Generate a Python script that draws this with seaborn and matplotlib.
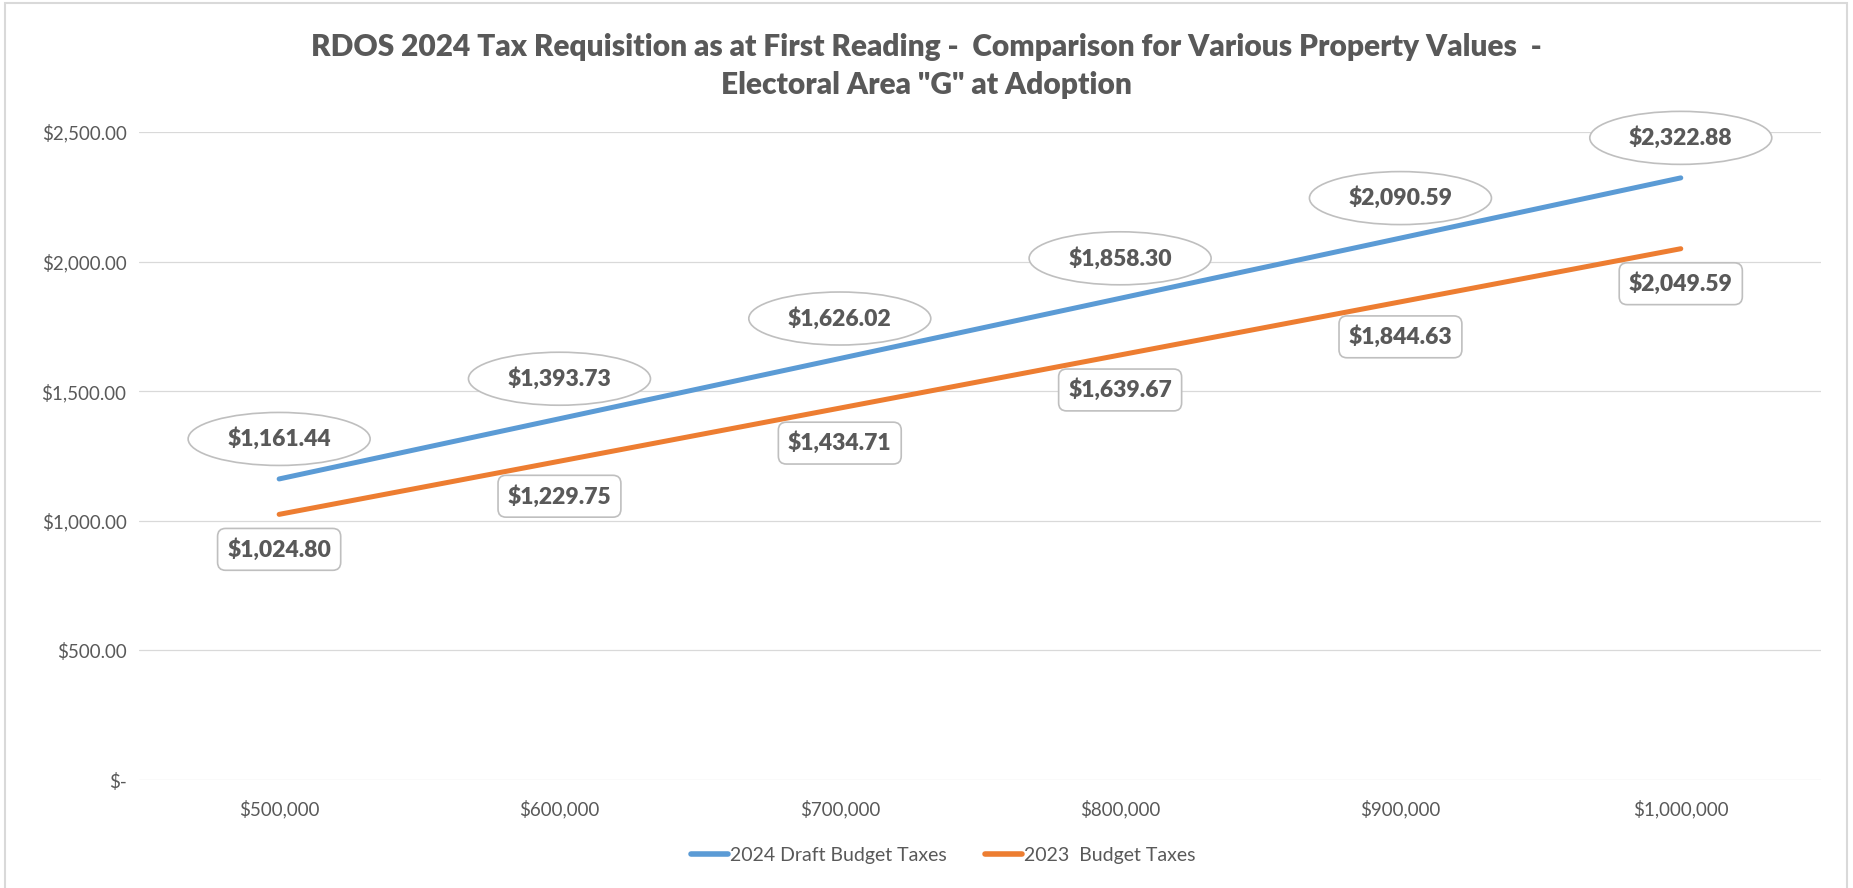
import numpy as np
import pandas as pd
import matplotlib
matplotlib.use("Agg")
import matplotlib.pyplot as plt
import seaborn as sns
from matplotlib.patches import Ellipse, Rectangle
from matplotlib.transforms import Affine2D, ScaledTranslation

# data
property_values = ["$500,000", "$600,000", "$700,000", "$800,000", "$900,000", "$1,000,000"]
taxes_2024 = [1161.44, 1393.73, 1626.02, 1858.30, 2090.59, 2322.88]
taxes_2023 = [1024.80, 1229.75, 1434.71, 1639.67, 1844.63, 2049.59]
series_names = ["2024 Draft Budget Taxes", "2023  Budget Taxes"]
y_ticks = [0, 500, 1000, 1500, 2000, 2500]
y_tick_labels = ["$-", "$500.00", "$1,000.00", "$1,500.00", "$2,000.00", "$2,500.00"]

colors = {"2024 Draft Budget Taxes": "#5B9BD5", "2023  Budget Taxes": "#ED7D31"}
text_grey = "#595959"

df = pd.DataFrame({
    "pos": list(range(len(property_values))) * 2,
    "value": taxes_2024 + taxes_2023,
    "series": [series_names[0]] * len(taxes_2024) + [series_names[1]] * len(taxes_2023),
})

sns.set_style("white")
plt.rcParams["font.family"] = ["Lato", "DejaVu Sans"]

DPI = 100
fig = plt.figure(figsize=(18.53, 8.88), dpi=DPI)
ax = fig.add_axes([0.075, 0.1216, 0.9077, 0.7298])

sns.lineplot(data=df, x="pos", y="value", hue="series", palette=colors,
             linewidth=3.6, ax=ax, legend=True)
for ln in ax.lines:
    ln.set_solid_capstyle("round")

ax.set_xlim(-0.5, len(property_values) - 0.5)
ax.set_ylim(0, 2500)
ax.set_yticks(y_ticks)
ax.set_yticklabels(y_tick_labels)
ax.set_xticks(range(len(property_values)))
ax.set_xticklabels(property_values)
ax.tick_params(axis="both", length=0, labelsize=13.5, labelcolor=text_grey)
ax.tick_params(axis="y", pad=9)
ax.tick_params(axis="x", pad=14)
ax.set_xlabel("")
ax.set_ylabel("")
ax.grid(axis="y", color="#d9d9d9", linewidth=0.9)
ax.set_axisbelow(True)
for sp in ax.spines.values():
    sp.set_visible(False)

px = 72.0 / DPI  # points per pixel

# 2024 labels: ellipses above the line
for i, v in enumerate(taxes_2024):
    tr = Affine2D().translate(0, 40) + ScaledTranslation(i, v, ax.transData)
    ax.add_patch(Ellipse((0, 0), 182, 53, transform=tr, facecolor="white",
                         edgecolor="#bfbfbf", linewidth=1.2, zorder=5, clip_on=False))
    ax.annotate(f"${v:,.2f}", (i, v), xytext=(0, 40 * px), textcoords="offset points",
                ha="center", va="center", fontsize=16.5, fontweight="heavy",
                color=text_grey, zorder=6, annotation_clip=False)

# 2023 labels: rounded boxes below the line
for i, v in enumerate(taxes_2023):
    ax.annotate(f"${v:,.2f}", (i, v), xytext=(0, -35 * px), textcoords="offset points",
                ha="center", va="center", fontsize=16.5, fontweight="heavy",
                color=text_grey, zorder=6, annotation_clip=False,
                bbox=dict(boxstyle="round,pad=0.42,rounding_size=0.35", facecolor="white",
                          edgecolor="#bfbfbf", linewidth=1.2))

handles, labels = ax.get_legend_handles_labels()
leg = fig.legend(handles, labels, loc="center", bbox_to_anchor=(0.509, 0.037), ncol=2,
                 frameon=False, fontsize=14, handlelength=1.9, handletextpad=0.1,
                 columnspacing=2.0)
for t in leg.get_texts():
    t.set_color(text_grey)
for h in leg.legend_handles:
    h.set_linewidth(4)
if ax.get_legend():
    ax.get_legend().remove()

fig.text(0.5, 1 - 47 / 888, 'RDOS 2024 Tax Requisition as at First Reading -  Comparison for Various Property Values  -',
         ha="center", va="center", fontsize=21.5, fontweight="heavy", color=text_grey)
fig.text(0.5, 1 - 85 / 888, 'Electoral Area "G" at Adoption',
         ha="center", va="center", fontsize=21.5, fontweight="heavy", color=text_grey)

# chart area border
fig.patches.append(Rectangle((5 / 1853, -0.01), 1842 / 1853, 1.0 - 3 / 888 + 0.01,
                             transform=fig.transFigure, fill=False,
                             edgecolor="#d9d9d9", linewidth=1.5))

fig.savefig("out.png", dpi=DPI)
